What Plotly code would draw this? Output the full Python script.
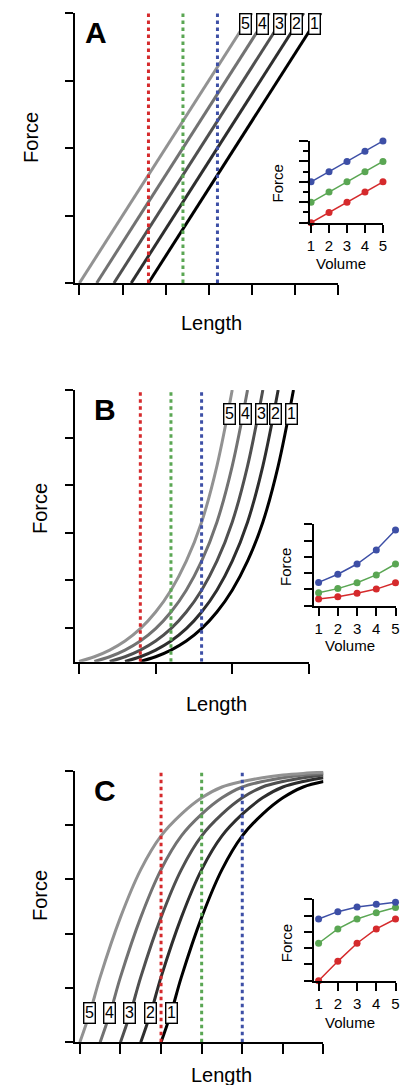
import plotly.graph_objects as go

W, H = 400, 1085
FONT = 'Liberation Sans, Arial, Helvetica, sans-serif'

# curve colours, curve 1 (black) .. curve 5 (light grey)
GRAYS = ['#000000', '#2e2e2e', '#505050', '#727272', '#929292']
CURVE_NAMES = ['1', '2', '3', '4', '5']
RED, GREEN, BLUE = '#d52a2c', '#5aa653', '#3d4fa6'

VOLUME = [1, 2, 3, 4, 5]

# ---- Panel A: linear ----
A_CURVE_X = [[1.6, 5.6], [1.2, 5.2], [0.8, 4.8], [0.4, 4.4], [0.0, 4.0]]
A_CURVE_Y = [0, 4]
A_LINES = [1.6, 2.4, 3.2]
A_YLIM = [0, 4]
A_LABEL_X = [5.44, 5.04, 4.64, 4.24, 3.84]
A_LABEL_Y = 3.84
A_RED = [0, 1, 2, 3, 4]
A_GREEN = [2, 3, 4, 5, 6]
A_BLUE = [4, 5, 6, 7, 8]

# ---- Panel B: exponential ----
B_CURVE_X = [
    [0.8, 1.0, 1.2, 1.4, 1.6, 1.8, 2.0, 2.2, 2.4, 2.6, 2.8],
    [0.6, 0.8, 1.0, 1.2, 1.4, 1.6, 1.8, 2.0, 2.2, 2.4, 2.6],
    [0.4, 0.6, 0.8, 1.0, 1.2, 1.4, 1.6, 1.8, 2.0, 2.2, 2.4],
    [0.2, 0.4, 0.6, 0.8, 1.0, 1.2, 1.4, 1.6, 1.8, 2.0, 2.2],
    [0.0, 0.2, 0.4, 0.6, 0.8, 1.0, 1.2, 1.4, 1.6, 1.8, 2.0],
]
B_CURVE_Y = [0.29, 0.39, 0.53, 0.72, 0.98, 1.33, 1.79, 2.40, 3.22, 4.40, 6.0]
B_LINES = [0.8, 1.2, 1.6]
B_YLIM = [0.286, 6]
B_LABEL_X = [2.77, 2.57, 2.38, 2.18, 1.97]
B_LABEL_Y = 5.5
B_RED = [0.41, 0.55, 0.76, 1.02, 1.41]
B_GREEN = [0.80, 1.05, 1.41, 1.89, 2.56]
B_BLUE = [1.43, 1.93, 2.56, 3.42, 4.65]

# ---- Panel C: saturating ----
C_CURVE_X = [
    [2.0, 2.25, 2.5, 3.0, 3.5, 4.0, 4.5, 5.0, 5.5, 6.0],
    [1.5, 1.75, 2.0, 2.5, 3.0, 3.5, 4.0, 4.5, 5.0, 5.5, 6.0],
    [1.0, 1.25, 1.5, 2.0, 2.5, 3.0, 3.5, 4.0, 4.5, 5.0, 5.5, 6.0],
    [0.5, 0.75, 1.0, 1.5, 2.0, 2.5, 3.0, 3.5, 4.0, 4.5, 5.0, 5.5, 6.0],
    [0.0, 0.25, 0.5, 1.0, 1.5, 2.0, 2.5, 3.0, 3.5, 4.0, 4.5, 5.0, 5.5, 6.0],
]
C_CURVE_Y = [0, 0.55, 1.2, 2.3, 3.18, 3.8, 4.2, 4.5, 4.7, 4.8, 4.87, 4.92, 4.95, 4.97]
C_LINES = [2, 3, 4]
C_YLIM = [0, 5]
C_LABEL_X = [2.25, 1.73, 1.23, 0.72, 0.23]
C_LABEL_Y = 0.54
C_RED = [0, 1.19, 2.3, 3.18, 3.79]
C_GREEN = [2.3, 3.18, 3.79, 4.18, 4.49]
C_BLUE = [3.79, 4.24, 4.53, 4.69, 4.82]


def px(x):
    # window pixel -> paper fraction
    return x / W


def py(y):
    return 1 - y / H


def add_main(fig, n, curves_x, curve_y, lines, ylim, label_x, label_y, shape):
    xa, ya = f'x{n}', f'y{n}'
    for cx, color in zip(curves_x, GRAYS):
        fig.add_trace(go.Scatter(
            x=cx, y=curve_y[:len(cx)], mode='lines', xaxis=xa, yaxis=ya,
            line=dict(color=color, width=3, shape=shape), hoverinfo='skip'
        ))
    for v, color in zip(lines, [RED, GREEN, BLUE]):
        fig.add_trace(go.Scatter(
            x=[v, v], y=ylim, mode='lines', xaxis=xa, yaxis=ya,
            line=dict(color=color, width=3, dash='3.5px,3.5px'), hoverinfo='skip'
        ))
    for lx, name in zip(label_x, CURVE_NAMES):
        fig.add_annotation(
            x=lx, y=label_y, xref=xa, yref=ya, text=name, showarrow=False,
            font=dict(size=16, color='black', family=FONT),
            bgcolor='white', bordercolor='black', borderwidth=1.4, borderpad=0.5,
            width=9, height=18
        )


def add_inset(fig, n, red, green, blue):
    xa, ya = f'x{n}', f'y{n}'
    for vals, color in [(red, RED), (green, GREEN), (blue, BLUE)]:
        fig.add_trace(go.Scatter(
            x=VOLUME, y=vals, mode='lines+markers', xaxis=xa, yaxis=ya,
            line=dict(color=color, width=1.5), marker=dict(color=color, size=7),
            cliponaxis=False, hoverinfo='skip'
        ))


def axis(domain, rng, tickvals, ticklen, labels=False, size=15):
    return dict(
        domain=domain, range=rng, tickvals=tickvals, ticks='outside',
        ticklen=ticklen, tickwidth=2, tickcolor='black',
        showline=True, linecolor='black', linewidth=2,
        showgrid=False, zeroline=False, showticklabels=labels,
        ticklabeloverflow='allow',
        tickfont=dict(size=size, color='black', family=FONT), fixedrange=True
    )


fig = go.Figure()
add_main(fig, '', A_CURVE_X, A_CURVE_Y, A_LINES, A_YLIM, A_LABEL_X, A_LABEL_Y, 'linear')
add_inset(fig, 2, A_RED, A_GREEN, A_BLUE)
add_main(fig, 3, B_CURVE_X, B_CURVE_Y, B_LINES, B_YLIM, B_LABEL_X, B_LABEL_Y, 'spline')
add_inset(fig, 4, B_RED, B_GREEN, B_BLUE)
add_main(fig, 5, C_CURVE_X, C_CURVE_Y, C_LINES, C_YLIM, C_LABEL_X, C_LABEL_Y, 'spline')
add_inset(fig, 6, C_RED, C_GREEN, C_BLUE)

inset_a_y = axis([py(222.7), py(141)], [0, 8], [0, 2, 4, 6, 8], 9)
inset_a_y['minor'] = dict(dtick=1, tick0=0, ticklen=5, ticks='outside', tickwidth=2, tickcolor='black')

fig.update_layout(
    width=W, height=H, autosize=False,
    margin=dict(l=0, r=0, t=0, b=0),
    paper_bgcolor='white', plot_bgcolor='white',
    showlegend=False,
    font=dict(family=FONT, color='black'),
    # panel A
    xaxis=axis([px(72), px(341)], [-0.114, 6], [0, 1, 2, 3, 4, 5, 6], 10),
    yaxis=axis([py(283), py(13)], [0, 4], [0, 1, 2, 3, 4], 8),
    xaxis2=dict(axis([px(312.7), px(386.7)], [0.967, 5], VOLUME, 8, True), anchor='y2'),
    yaxis2=dict(inset_a_y, anchor='x2'),
    # panel B
    xaxis3=dict(axis([px(72.7), px(311)], [-0.05, 3], [0, 1, 2, 3], 10), anchor='y3'),
    yaxis3=dict(axis([py(661.7), py(390)], B_YLIM, [1, 2, 3, 4, 5, 6], 8), anchor='x3'),
    xaxis4=dict(axis([px(316.7), px(399.5)], [0.78, 5], VOLUME, 8, True), anchor='y4'),
    yaxis4=dict(axis([py(605.7), py(524.3)], [0, 5], [0, 1, 2, 3, 4, 5], 8), anchor='x4'),
    # panel C
    xaxis5=dict(axis([px(72.7), px(326)], [-0.113, 6], [0, 1, 2, 3, 4, 5, 6], 10), anchor='y5'),
    yaxis5=dict(axis([py(1042.3), py(770.7)], C_YLIM, [0, 1, 2, 3, 4, 5], 8), anchor='x5'),
    xaxis6=dict(axis([px(316.7), px(399.5)], [0.78, 5], VOLUME, 8, True), anchor='y6'),
    yaxis6=dict(axis([py(980.7), py(899.3)], [0, 5], [0, 1, 2, 3, 4, 5], 8), anchor='x6'),
)


def paper_text(text, x, y, size, angle=0, bold=False):
    fig.add_annotation(
        x=px(x), y=py(y), xref='paper', yref='paper', text=f'<b>{text}</b>' if bold else text,
        showarrow=False, textangle=angle, xanchor='center', yanchor='middle',
        font=dict(size=size, color='black', family=FONT)
    )


# panel letters
paper_text('A', 94, 32, 30, bold=True)
paper_text('B', 103, 409, 30, bold=True)
paper_text('C', 103, 790, 30, bold=True)

# main axis titles
for x, y in [(27.5, 137), (36.7, 508), (36.7, 895)]:
    paper_text('Force', x, y, 20, angle=-90)
for x, y in [(212, 323), (217, 704), (222, 1075)]:
    paper_text('Length', x, y, 20)

# inset axis titles
for x, y in [(279, 183), (286.7, 567), (288, 943)]:
    paper_text('Force', x, y, 15, angle=-90)
for x, y in [(344, 263), (353, 645), (353, 1022)]:
    paper_text('Volume', x, y, 15)

# drop the default page margin so the 400x1085 figure fills the window exactly
fig.write_html('out.html', config={'displayModeBar': False},
               post_script="document.body.style.margin = '0px';")
